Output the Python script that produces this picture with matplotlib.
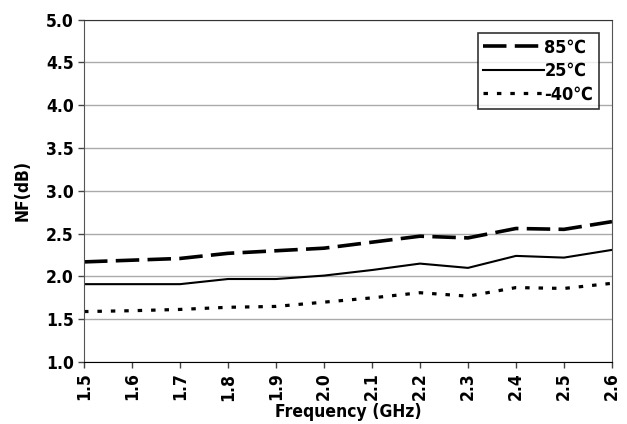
import matplotlib
matplotlib.use("Agg")
import matplotlib.pyplot as plt

freq = [1.5, 1.6, 1.7, 1.8, 1.9, 2.0, 2.1, 2.2, 2.3, 2.4, 2.5, 2.6]
nf_85 = [2.17, 2.19, 2.21, 2.27, 2.30, 2.33, 2.40, 2.47, 2.45, 2.56, 2.55, 2.64]
nf_25 = [1.91, 1.91, 1.91, 1.97, 1.97, 2.01, 2.075, 2.15, 2.10, 2.24, 2.22, 2.31]
nf_m40 = [1.59, 1.60, 1.615, 1.64, 1.65, 1.70, 1.75, 1.81, 1.77, 1.87, 1.86, 1.92]
labels = ["85\u2103", "25\u2103", "-40\u2103"]

plt.rcParams["font.family"] = ["DejaVu Sans"]
plt.rcParams["font.weight"] = "bold"
plt.rcParams["font.stretch"] = "condensed"

fig = plt.figure(figsize=(6.27, 4.24), dpi=100)
ax = fig.add_axes([0.134, 0.146, 0.842, 0.808])

ax.plot(freq, nf_85, color="black", lw=2.6, dashes=(6.5, 2.3), label=labels[0])
ax.plot(freq, nf_25, color="black", lw=1.5, label=labels[1])
ax.plot(freq, nf_m40, color="black", lw=2.3, dashes=(1.4, 2.8), label=labels[2])

ax.set_xlim(1.5, 2.6)
ax.set_ylim(1.0, 5.0)
ax.set_xticks(freq)
ax.set_xticklabels([f"{f:.1f}" for f in freq], rotation=90)
ax.set_yticks([1.0, 1.5, 2.0, 2.5, 3.0, 3.5, 4.0, 4.5, 5.0])
ax.set_yticklabels([f"{v:.1f}" for v in ax.get_yticks()])
ax.tick_params(labelsize=12.5, length=4, width=1, color="#444444")
ax.grid(axis="y", color="#aaaaaa", lw=1)
ax.set_axisbelow(True)
for s in ax.spines.values():
    s.set_color("#555555")
ax.spines["bottom"].set_color("black")
ax.spines["top"].set_color("#333333")

ax.set_xlabel("Frequency (GHz)", fontsize=12.5, fontweight="bold", labelpad=2)
ax.set_ylabel("NF(dB)", fontsize=12.5, fontweight="bold", labelpad=10)

leg = ax.legend(loc="upper right", bbox_to_anchor=(0.975, 0.96), fontsize=13,
                frameon=True, fancybox=False, handlelength=3.4, handletextpad=0,
                borderpad=0.3, labelspacing=0.3, borderaxespad=0)
leg.get_frame().set_edgecolor("black")
leg.get_frame().set_linewidth(1.2)

fig.savefig("out.png", dpi=100)
